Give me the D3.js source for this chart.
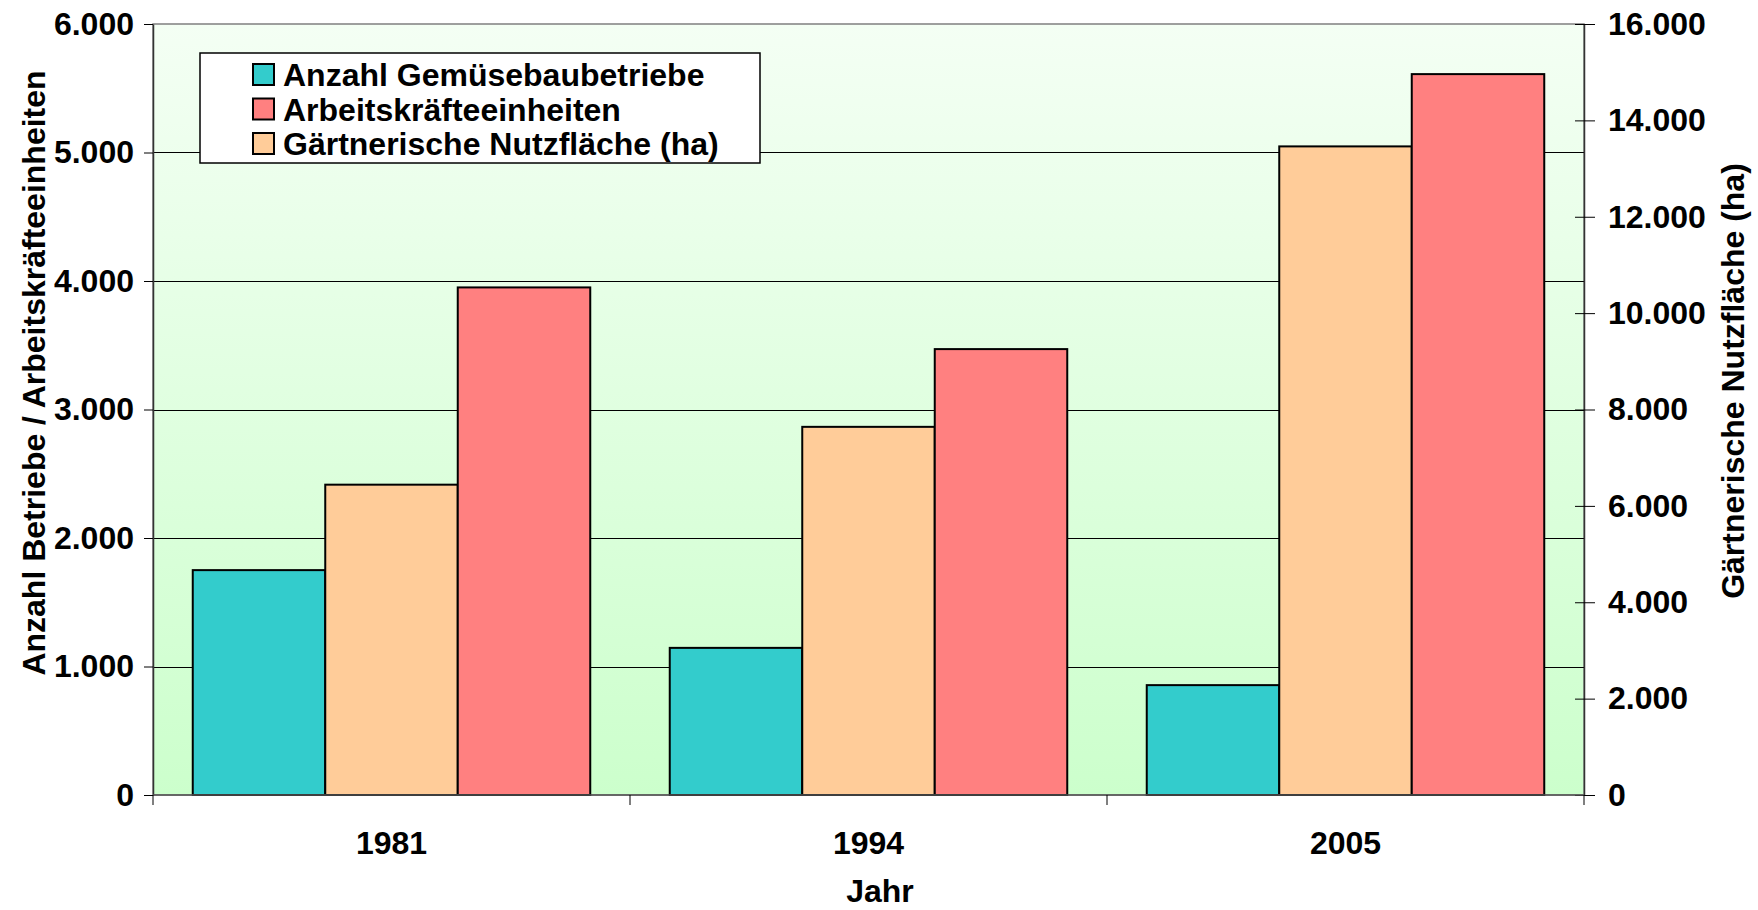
<!DOCTYPE html>
<html>
<head>
    <meta charset="utf-8">
    <script src="https://d3js.org/d3.v7.min.js"></script>
    <style>
        body { margin: 0; background: #fff; }
        text { font-family: "Liberation Sans", Arial, sans-serif; font-weight: bold; fill: #000; }
    </style>
</head>
<body>
    <svg id="chart" width="1758" height="910"></svg>
    <script>
        // data
        var years = ["1981", "1994", "2005"];
        var betriebe = [1750, 1145, 855];          // left axis
        var arbeitskraefte = [3950, 3470, 5610];   // left axis
        var nutzflaeche = [6440, 7640, 13460];     // right axis (ha)
        var leftTicks = [0, 1000, 2000, 3000, 4000, 5000, 6000];
        var rightTicks = [0, 2000, 4000, 6000, 8000, 10000, 12000, 14000, 16000];

        // plot area (note: "top" is reserved on window)
        var pLeft = 153, pRight = 1584, pTop = 24, pBottom = 795;
        var fs = "32px";

        var svg = d3.select("#chart");

        // German number format: 1.000
        var fmt = d3.formatLocale({ decimal: ",", thousands: ".", grouping: [3], currency: ["", "€"] }).format(",d");

        var x = d3.scaleBand().domain(years).range([pLeft, pRight]).padding(0);
        var series = ["betriebe", "flaeche", "arbeit"];
        var xs = d3.scaleBand().domain(series).range([0, x.bandwidth()]).paddingInner(0).paddingOuter(0.3);
        var yL = d3.scaleLinear().domain([0, 6000]).range([pBottom, pTop]);
        var yR = d3.scaleLinear().domain([0, 16000]).range([pBottom, pTop]);

        // plot background gradient
        var defs = svg.append("defs");
        var grad = defs.append("linearGradient").attr("id", "bg")
            .attr("x1", 0).attr("y1", 0).attr("x2", 0).attr("y2", 1);
        grad.append("stop").attr("offset", "0%").attr("stop-color", "#f4fff4");
        grad.append("stop").attr("offset", "100%").attr("stop-color", "#ccffcc");

        svg.append("rect")
            .attr("x", pLeft).attr("y", pTop)
            .attr("width", pRight - pLeft).attr("height", pBottom - pTop)
            .attr("fill", "url(#bg)")
            .attr("stroke", "#808080").attr("stroke-width", 1.5);

        // gridlines
        svg.append("g").selectAll("line")
            .data(leftTicks.filter(function (d) { return d > 0 && d < 6000; }))
            .enter().append("line")
            .attr("x1", pLeft).attr("x2", pRight)
            .attr("y1", function (d) { return Math.round(yL(d)) + 0.5; })
            .attr("y2", function (d) { return Math.round(yL(d)) + 0.5; })
            .attr("stroke", "#000").attr("stroke-width", 1);

        // bars
        var rows = years.map(function (y, i) {
            return [
                { year: y, key: "betriebe", value: betriebe[i], scale: yL, color: "#33cccc" },
                { year: y, key: "flaeche", value: nutzflaeche[i], scale: yR, color: "#ffcc99" },
                { year: y, key: "arbeit", value: arbeitskraefte[i], scale: yL, color: "#ff8080" }
            ];
        });

        svg.append("g").selectAll("g")
            .data(rows)
            .enter().append("g")
            .attr("transform", function (d) { return "translate(" + x(d[0].year) + ",0)"; })
            .selectAll("rect")
            .data(function (d) { return d; })
            .enter().append("rect")
            .attr("x", function (d) { return xs(d.key); })
            .attr("width", xs.bandwidth())
            .attr("y", function (d) { return d.scale(d.value); })
            .attr("height", function (d) { return pBottom - d.scale(d.value); })
            .attr("fill", function (d) { return d.color; })
            .attr("stroke", "#000").attr("stroke-width", 2);

        // left axis
        var axL = svg.append("g").attr("transform", "translate(" + pLeft + ",0)")
            .call(d3.axisLeft(yL).tickValues(leftTicks).tickFormat(fmt).tickSizeInner(9).tickSizeOuter(0).tickPadding(10));
        axL.select(".domain").attr("stroke", "#333").attr("stroke-width", 1.5);
        axL.selectAll("text").style("font-size", fs).style("font-family", "Liberation Sans, Arial, sans-serif").style("font-weight", "bold");

        // right axis (ticks cross the line)
        var axR = svg.append("g").attr("transform", "translate(" + pRight + ",0)")
            .call(d3.axisRight(yR).tickValues(rightTicks).tickFormat(fmt).tickSizeInner(11).tickSizeOuter(0).tickPadding(13));
        axR.select(".domain").attr("stroke", "#333").attr("stroke-width", 1.5);
        axR.selectAll(".tick line").attr("x1", -9);
        axR.selectAll("text").style("font-size", fs).style("font-family", "Liberation Sans, Arial, sans-serif").style("font-weight", "bold");

        // bottom axis: ticks at category boundaries
        var axB = svg.append("g").attr("transform", "translate(0," + pBottom + ")");
        axB.append("line").attr("x1", pLeft).attr("x2", pRight).attr("y1", 0).attr("y2", 0)
            .attr("stroke", "#555").attr("stroke-width", 1.5);
        axB.selectAll("line.tk")
            .data(years.map(function (y) { return x(y); }).concat([pRight]))
            .enter().append("line").attr("class", "tk")
            .attr("x1", function (d) { return d; }).attr("x2", function (d) { return d; })
            .attr("y1", 0).attr("y2", 10)
            .attr("stroke", "#000").attr("stroke-width", 1);
        axB.selectAll("text")
            .data(years)
            .enter().append("text")
            .attr("x", function (d) { return x(d) + x.bandwidth() / 2; })
            .attr("y", 59)
            .attr("text-anchor", "middle")
            .style("font-size", fs)
            .text(function (d) { return d; });

        // axis titles
        svg.append("text")
            .attr("transform", "translate(45,373) rotate(-90)")
            .attr("text-anchor", "middle")
            .style("font-size", fs)
            .text("Anzahl Betriebe / Arbeitskräfteeinheiten");

        svg.append("text")
            .attr("transform", "translate(1744,381) rotate(-90)")
            .attr("text-anchor", "middle")
            .style("font-size", fs)
            .text("Gärtnerische Nutzfläche (ha)");

        svg.append("text")
            .attr("x", 880).attr("y", 902)
            .attr("text-anchor", "middle")
            .style("font-size", fs)
            .text("Jahr");

        // legend
        var legendItems = ["Anzahl Gemüsebaubetriebe", "Arbeitskräfteeinheiten", "Gärtnerische Nutzfläche (ha)"];
        var legendColors = ["#33cccc", "#ff8080", "#ffcc99"];
        var lg = svg.append("g").attr("transform", "translate(200,53)");
        lg.append("rect").attr("x", 0).attr("y", 0).attr("width", 560).attr("height", 110)
            .attr("fill", "#fff").attr("stroke", "#000").attr("stroke-width", 1.5);
        var li = lg.selectAll("g.item").data(legendItems).enter().append("g").attr("class", "item")
            .attr("transform", function (d, i) { return "translate(0," + (i * 34.5) + ")"; });
        li.append("rect").attr("x", 53).attr("y", 11).attr("width", 21).attr("height", 21)
            .attr("fill", function (d, i) { return legendColors[i]; })
            .attr("stroke", "#000").attr("stroke-width", 2);
        li.append("text").attr("x", 83).attr("y", 33)
            .style("font-size", fs)
            .text(function (d) { return d; });
    </script>
</body>
</html>
